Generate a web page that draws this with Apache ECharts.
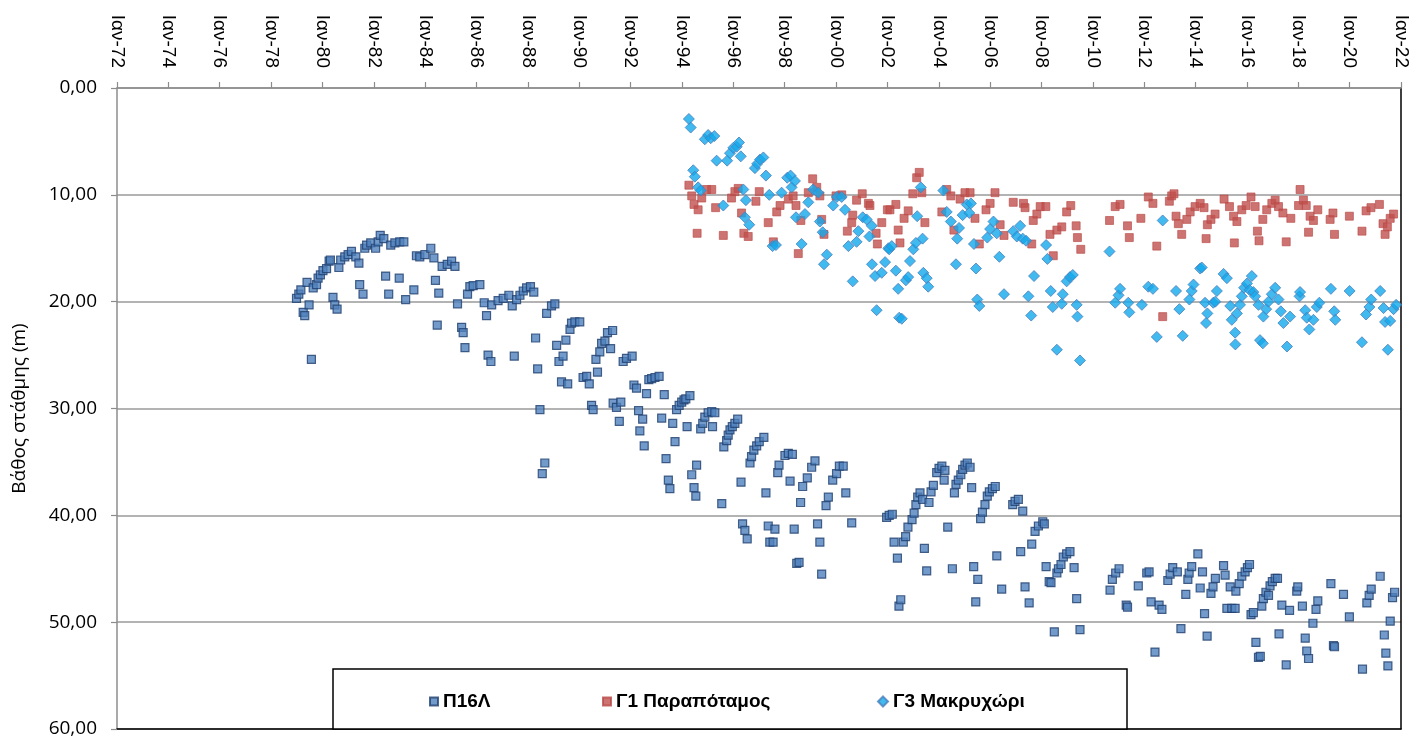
<!DOCTYPE html>
<html>
<head>
<meta charset="utf-8">
<script src="https://cdn.jsdelivr.net/npm/echarts@6/dist/echarts.min.js"></script>
<style>
html,body{margin:0;padding:0;background:#fff;}
#chart{width:1411px;height:744px;}
</style>
</head>
<body>
<div id="chart"></div>
<script>
const seriesNames = ['Π16Λ', 'Γ1 Παραπόταμος', 'Γ3 Μακρυχώρι'];
const yAxisTitle = 'Βάθος στάθμης (m)';
const monthPrefix = 'Ιαν-';

// [decimal year, depth (m)]
const p16L = [
[1978.99,19.7],[1979.08,19.3],[1979.16,18.9],[1979.25,21.0],[1979.31,21.3],[1979.40,18.2],[1979.48,20.3],[1979.57,25.4],[1979.64,18.7],[1979.77,18.4],[1979.83,17.8],[1979.92,17.5],[1980.02,17.1],[1980.16,16.9],[1980.26,16.2],[1980.31,16.1],[1980.41,19.6],[1980.48,20.3],[1980.57,20.7],[1980.64,16.8],[1980.71,16.1],[1980.87,15.8],[1981.00,15.6],[1981.13,15.3],[1981.30,15.8],[1981.42,16.4],[1981.45,18.4],[1981.58,19.3],[1981.65,15.0],[1981.72,14.7],[1981.88,14.5],[1982.07,15.0],[1982.17,14.4],[1982.25,13.8],[1982.39,14.1],[1982.46,17.6],[1982.58,19.3],[1982.66,14.7],[1982.82,14.5],[1982.99,17.8],[1983.01,14.4],[1983.17,14.4],[1983.24,19.8],[1983.56,18.9],[1983.66,15.7],[1983.79,15.8],[1983.99,15.6],[1984.22,15.0],[1984.34,15.9],[1984.40,18.0],[1984.47,22.2],[1984.53,19.2],[1984.66,16.7],[1984.86,16.5],[1985.03,16.2],[1985.16,16.7],[1985.26,20.2],[1985.42,22.4],[1985.48,22.9],[1985.55,24.3],[1985.65,19.3],[1985.74,18.6],[1985.87,18.5],[1986.13,18.4],[1986.30,20.1],[1986.39,21.3],[1986.45,25.0],[1986.56,25.6],[1986.59,20.3],[1986.84,19.9],[1987.04,19.7],
[1987.26,19.4],[1987.39,20.4],[1987.47,25.1],[1987.56,19.8],[1987.69,19.4],[1987.82,19.0],[1987.95,18.7],[1988.10,18.6],[1988.23,19.1],[1988.30,23.4],[1988.38,26.3],[1988.47,30.1],[1988.56,36.1],[1988.66,35.1],[1988.73,21.1],[1988.92,20.4],[1989.05,20.2],[1989.12,24.1],[1989.21,25.6],[1989.31,27.5],[1989.37,25.1],[1989.48,23.6],[1989.55,27.7],[1989.64,22.6],[1989.70,22.0],[1989.83,21.9],[1990.02,21.9],[1990.15,27.1],[1990.29,27.0],[1990.39,27.7],[1990.48,29.7],[1990.54,30.1],[1990.65,25.4],[1990.71,26.6],[1990.80,24.7],[1990.87,23.9],[1991.00,23.7],[1991.10,22.9],[1991.22,24.4],[1991.30,22.7],[1991.32,29.5],[1991.45,29.9],[1991.56,31.2],[1991.62,29.4],[1991.71,25.6],[1991.84,25.3],[1992.06,25.1],[1992.13,27.8],[1992.23,28.1],[1992.31,30.2],[1992.36,32.1],[1992.47,31.0],[1992.53,33.5],[1992.62,28.6],[1992.71,27.3],[1992.82,27.2],[1992.95,27.1],[1993.11,27.0],[1993.21,30.9],[1993.31,28.7],[1993.38,34.7],[1993.47,36.7],[1993.53,37.5],[1993.64,31.4],[1993.73,33.1],[1993.79,30.1],[1993.89,29.7],[1993.99,29.4],[1994.08,29.2],[1994.15,29.1],[1994.20,31.7],[1994.31,28.8],[1994.38,36.2],[1994.47,37.4],[1994.54,38.2],[1994.57,35.3],
[1994.73,31.9],[1994.81,31.4],[1994.89,30.8],[1995.02,30.4],[1995.16,30.3],[1995.19,31.7],[1995.28,30.4],[1995.55,38.9],[1995.63,33.6],[1995.74,33.0],[1995.80,32.5],[1995.87,32.0],[1995.96,31.7],[1996.06,31.4],[1996.17,31.0],[1996.30,36.9],[1996.36,40.8],[1996.45,41.4],[1996.54,42.2],[1996.65,35.1],[1996.71,34.5],[1996.80,33.9],[1996.91,33.5],[1997.01,33.1],[1997.19,32.7],[1997.27,37.9],[1997.36,41.0],[1997.42,42.5],[1997.55,42.5],[1997.62,41.3],[1997.73,36.0],[1997.78,35.3],[1998.01,34.4],[1998.14,34.2],[1998.21,36.8],[1998.30,34.3],[1998.37,41.3],[1998.47,44.5],[1998.56,44.4],[1998.62,38.8],[1998.70,37.3],[1998.88,36.5],[1999.05,35.5],[1999.18,34.9],[1999.28,40.8],[1999.37,42.5],[1999.44,45.5],[1999.61,39.1],[1999.70,38.3],[1999.87,36.7],[2000.02,36.1],[2000.13,35.4],[2000.28,35.4],[2000.38,37.9],[2000.61,40.7],
[2001.97,40.2],[2002.07,40.0],[2002.19,39.9],[2002.26,42.5],[2002.39,44.0],[2002.45,48.5],[2002.52,47.9],[2002.62,42.5],[2002.71,42.0],[2002.80,41.1],[2002.96,40.4],[2003.04,39.8],[2003.11,39.0],[2003.18,38.3],[2003.27,37.9],[2003.37,38.5],[2003.44,43.1],[2003.53,45.2],[2003.62,38.8],[2003.70,37.8],[2003.79,37.2],[2003.92,36.0],[2004.01,35.6],[2004.12,35.4],[2004.21,36.7],[2004.24,35.8],[2004.35,41.1],[2004.53,45.0],[2004.61,37.9],[2004.67,37.1],[2004.76,36.7],[2004.86,36.2],[2004.93,35.7],[2005.02,35.3],[2005.11,35.1],[2005.22,35.5],[2005.28,37.4],[2005.36,44.8],[2005.44,48.1],[2005.52,46.0],[2005.63,40.3],[2005.70,39.7],[2005.80,39.0],[2005.89,38.2],[2005.97,37.8],[2006.09,37.5],[2006.20,37.3],[2006.26,43.8],[2006.45,46.9],[2006.88,39.0],[2006.97,38.7],[2007.10,38.5],[2007.19,43.4],[2007.27,39.6],[2007.36,46.7],[2007.52,48.2],[2007.62,42.7],[2007.75,41.5],[2007.88,41.0],[2008.05,40.6],[2008.11,40.8],[2008.18,44.8],[2008.30,46.2],[2008.37,46.3],[2008.50,50.9],[2008.60,45.4],[2008.66,45.0],[2008.76,44.6],[2008.85,43.9],[2008.98,43.6],[2009.11,43.4],[2009.27,44.9],[2009.37,47.8],[2009.50,50.7],
[2010.67,47.0],[2010.76,46.0],[2010.89,45.4],[2011.02,45.0],[2011.30,48.4],[2011.35,48.6],[2011.77,46.6],[2012.10,45.4],[2012.19,45.3],[2012.27,48.1],[2012.42,52.8],[2012.58,48.4],[2012.69,48.8],[2012.92,46.1],[2013.01,45.5],[2013.11,44.9],[2013.29,45.3],[2013.43,50.6],[2013.62,47.4],[2013.70,46.0],[2013.75,45.4],[2013.85,44.8],[2014.09,43.6],[2014.18,46.8],[2014.27,45.3],[2014.35,49.2],[2014.45,51.3],[2014.60,47.3],[2014.68,46.7],[2014.77,45.9],[2015.09,44.7],[2015.15,45.6],[2015.22,48.7],[2015.35,46.7],[2015.41,48.7],[2015.54,48.7],[2015.57,47.1],[2015.70,46.4],[2015.80,45.7],[2015.93,45.3],[2016.02,44.9],[2016.10,44.6],[2016.16,49.3],[2016.25,49.1],[2016.35,51.9],[2016.45,53.3],[2016.52,53.2],[2016.58,48.5],[2016.64,47.8],[2016.74,47.2],[2016.84,47.5],[2016.90,46.6],[2016.99,46.2],[2017.10,45.9],[2017.19,45.9],[2017.25,51.1],[2017.36,48.4],[2017.53,54.0],[2017.66,48.9],[2017.94,47.1],[2017.98,46.7],[2018.16,48.5],[2018.27,51.5],[2018.33,52.7],[2018.40,53.4],[2018.57,50.1],[2018.69,48.8],[2018.76,48.0],[2019.27,46.4],[2019.37,52.2],[2019.41,52.3],[2019.76,47.4],[2019.99,49.5],[2020.50,54.4],[2020.67,48.2],[2020.76,47.5],[2020.84,46.9],[2021.19,45.7],[2021.35,51.2],[2021.41,52.9],[2021.49,54.1],[2021.58,49.9],[2021.67,47.7],[2021.75,47.2]
];

const g1Parapotamos = [
[1994.27,9.1],[1994.38,10.1],[1994.47,10.9],[1994.59,13.6],[1994.63,11.4],[1994.77,10.3],[1994.96,9.5],[1995.16,9.5],[1995.31,11.2],[1995.61,13.8],[1995.93,10.3],[1996.06,9.7],[1996.19,9.4],[1996.32,11.7],[1996.41,13.6],[1996.58,13.9],[1996.88,10.6],[1997.01,9.7],[1997.36,12.6],[1997.56,14.4],[1997.69,11.6],[1997.82,11.0],[1998.14,10.4],[1998.33,10.1],[1998.44,11.0],[1998.53,15.5],[1998.63,12.4],[1998.92,9.8],[1999.09,8.5],[1999.25,9.3],[1999.37,10.1],[1999.44,12.3],[1999.53,13.7],[2000.00,10.1],[2000.22,10.0],[2000.44,13.4],[2000.61,12.6],[2000.65,11.9],[2000.80,10.5],[2001.02,9.9],[2001.26,10.8],[2001.32,11.0],[2001.56,13.6],[2001.61,14.6],[2001.78,12.6],[2002.00,11.4],[2002.10,11.4],[2002.33,10.9],[2002.42,13.3],[2002.49,14.5],[2002.65,12.2],[2002.81,11.5],[2002.99,9.9],[2003.14,8.4],[2003.24,7.9],[2003.34,9.8],[2003.46,12.6],[2004.12,11.6],[2004.31,9.5],[2004.47,10.1],[2004.59,13.3],[2004.83,10.4],[2005.02,9.8],[2005.22,9.8],[2005.41,12.2],[2005.58,14.6],[2005.84,11.4],[2006.00,10.8],[2006.19,9.8],[2006.39,12.8],[2006.54,13.8],[2006.90,10.7],[2007.30,10.8],[2007.36,11.2],[2007.62,14.6],[2007.68,12.4],[2007.82,11.8],[2007.95,11.1],[2008.17,11.1],[2008.33,13.7],[2008.46,15.7],[2008.60,13.3],[2008.79,13.0],[2008.98,11.6],[2009.14,11.0],[2009.35,12.9],[2009.40,14.0],[2009.53,15.1],
[2010.65,12.4],[2010.87,11.1],[2011.06,10.9],[2011.35,12.9],[2011.42,14.0],[2011.87,12.2],[2012.16,10.2],[2012.34,10.8],[2012.49,14.8],[2012.72,21.4],[2012.98,10.6],[2013.07,10.1],[2013.16,9.9],[2013.24,12.0],[2013.33,12.7],[2013.46,13.7],[2013.66,12.3],[2013.79,11.6],[2013.98,11.1],[2014.18,10.8],[2014.33,11.2],[2014.41,14.1],[2014.46,12.8],[2014.60,12.3],[2014.76,11.8],[2015.11,10.4],[2015.32,11.1],[2015.48,12.0],[2015.51,14.5],[2015.61,12.5],[2015.80,11.4],[2015.97,11.0],[2016.16,10.2],[2016.32,11.1],[2016.41,13.4],[2016.47,14.3],[2016.62,12.3],[2016.77,11.4],[2016.97,10.8],[2017.10,10.5],[2017.23,11.1],[2017.40,11.7],[2017.53,14.4],[2017.71,12.2],[2018.01,11.0],[2018.07,9.5],[2018.20,10.5],[2018.31,11.0],[2018.40,13.5],[2018.46,12.0],[2018.59,12.4],[2018.76,11.4],[2019.24,12.3],[2019.35,11.7],[2019.41,13.7],[2019.99,12.0],[2020.48,13.4],[2020.64,11.5],[2020.83,11.2],[2021.16,10.9],[2021.30,12.7],[2021.38,13.7],[2021.47,13.0],[2021.58,12.2],[2021.71,11.8]
];

const g3Makrychori = [
[1994.27,2.9],[1994.34,3.7],[1994.44,7.7],[1994.50,8.3],[1994.63,9.3],[1994.73,9.6],[1994.89,4.8],[1995.02,4.4],[1995.12,4.7],[1995.26,4.5],[1995.35,6.8],[1995.61,11.0],[1995.76,6.8],[1995.87,6.1],[1996.00,5.6],[1996.13,5.5],[1996.22,5.1],[1996.29,6.4],[1996.39,9.5],[1996.45,12.1],[1996.49,10.5],[1996.62,12.8],[1996.84,7.5],[1996.93,7.1],[1997.04,6.7],[1997.17,6.5],[1997.27,8.2],[1997.40,10.0],[1997.53,14.8],[1997.66,14.7],[1997.88,9.8],[1998.10,8.4],[1998.23,8.2],[1998.27,9.3],[1998.40,8.7],[1998.44,12.1],[1998.66,14.6],[1998.79,11.8],[1998.92,10.7],[1999.11,9.5],[1999.31,9.8],[1999.37,12.5],[1999.48,13.5],[1999.53,16.5],[1999.64,15.6],[1999.89,11.0],[2000.03,10.2],[2000.22,10.2],[2000.35,11.4],[2000.48,14.8],[2000.65,18.1],[2000.80,14.4],[2000.87,13.4],[2001.04,12.1],[2001.19,12.3],[2001.30,13.9],[2001.39,12.9],[2001.40,16.5],[2001.52,17.6],[2001.58,20.8],[2001.78,17.3],[2001.91,16.3],[2002.04,15.0],[2002.07,15.1],[2002.17,14.8],[2002.33,17.1],[2002.42,18.8],[2002.46,21.5],[2002.56,21.6],[2002.72,18.0],[2002.81,17.7],[2002.88,16.2],[2003.01,15.1],[2003.11,14.5],[2003.16,12.0],[2003.30,9.3],[2003.37,14.1],[2003.40,17.3],[2003.53,17.8],[2003.59,18.6],[2004.18,9.6],[2004.31,11.6],[2004.47,12.5],[2004.67,16.5],[2004.72,14.1],[2004.79,13.1],[2004.93,11.9],[2005.09,10.9],[2005.19,11.7],[2005.25,10.8],[2005.37,14.6],[2005.45,16.9],[2005.50,19.8],[2005.58,20.4],[2005.89,14.0],[2006.00,13.2],[2006.13,12.5],[2006.26,13.6],[2006.36,15.8],[2006.54,19.3],[2006.90,13.4],[2007.04,13.9],[2007.17,12.9],[2007.27,14.1],[2007.40,14.3],[2007.49,19.5],[2007.60,21.3],[2007.71,17.6],[2008.18,14.7],[2008.23,16.0],[2008.36,19.0],[2008.44,20.5],[2008.60,24.5],[2008.79,20.2],[2008.83,19.3],[2008.98,18.1],[2009.11,17.7],[2009.22,17.5],[2009.37,20.3],[2009.40,21.4],[2009.50,25.5],
[2010.65,15.3],[2010.87,20.1],[2011.00,19.4],[2011.06,18.8],[2011.38,20.1],[2011.42,21.0],[2011.91,20.3],[2012.16,18.6],[2012.34,18.8],[2012.49,23.3],[2012.72,12.4],[2013.24,19.0],[2013.37,20.7],[2013.50,23.2],[2013.76,19.8],[2013.85,19.0],[2013.92,18.4],[2014.18,16.9],[2014.24,16.8],[2014.37,20.1],[2014.41,22.0],[2014.46,21.1],[2014.69,20.1],[2014.77,20.0],[2014.83,19.0],[2015.09,17.4],[2015.22,17.8],[2015.35,20.4],[2015.41,21.7],[2015.54,22.9],[2015.55,24.0],[2015.61,21.1],[2015.73,20.3],[2015.80,19.5],[2015.89,18.7],[2016.00,18.3],[2016.10,18.9],[2016.19,17.6],[2016.25,19.1],[2016.32,19.5],[2016.45,20.3],[2016.51,23.6],[2016.62,23.9],[2016.64,21.4],[2016.75,20.7],[2016.84,20.0],[2016.97,19.3],[2017.10,18.7],[2017.23,19.8],[2017.32,20.9],[2017.42,22.0],[2017.56,24.2],[2017.68,21.4],[2018.05,19.5],[2018.07,19.1],[2018.27,20.8],[2018.33,21.5],[2018.43,22.6],[2018.59,21.7],[2018.72,20.5],[2018.82,20.1],[2019.27,18.8],[2019.40,20.9],[2019.44,21.7],[2020.00,19.0],[2020.48,23.8],[2020.64,21.2],[2020.77,20.5],[2020.84,19.8],[2021.19,19.0],[2021.32,20.6],[2021.38,21.9],[2021.49,24.5],[2021.58,21.8],[2021.71,20.7],[2021.81,20.3]
];

const xMin = 1972, xMax = 2022, xStep = 2;
const yMin = 0, yMax = 60, yStep = 10;

const FONT = '"Open Sans", "Liberation Sans", sans-serif';
const XFONT = '"Liberation Sans", Arial, sans-serif';
const chart = echarts.init(document.getElementById('chart'), null, {renderer: 'canvas'});

const legendText = {fontFamily: '"Liberation Sans", Arial, sans-serif', fontWeight: 'bold', fontSize: 19, color: '#000'};

chart.setOption({
  animation: false,
  backgroundColor: '#fff',
  grid: {left: 117, right: 10, top: 88, bottom: 15, containLabel: false},
  xAxis: [{
    type: 'value', position: 'top', min: xMin, max: xMax, interval: xStep,
    axisLine: {show: true, onZero: false, lineStyle: {color: '#8c8c8c', width: 1.5}},
    axisTick: {show: true, length: 6, lineStyle: {color: '#8c8c8c', width: 1.2}},
    axisLabel: {
      rotate: 90, margin: 20, fontFamily: XFONT, fontSize: 19, color: '#000',
      formatter: v => monthPrefix + String(Math.round(v) % 100).padStart(2, '0')
    },
    splitLine: {show: false}
  }, {
    type: 'value', position: 'bottom', min: xMin, max: xMax,
    axisLine: {show: true, onZero: false, lineStyle: {color: '#000', width: 1.5}},
    axisTick: {show: false}, axisLabel: {show: false}, splitLine: {show: false}
  }],
  yAxis: [{
    type: 'value', inverse: true, min: yMin, max: yMax, interval: yStep,
    name: yAxisTitle, nameLocation: 'middle', nameGap: 88, nameRotate: 90,
    nameTextStyle: {fontFamily: FONT, fontSize: 19, color: '#000'},
    axisLine: {show: true, onZero: false, lineStyle: {color: '#8c8c8c', width: 1.5}},
    axisTick: {show: true, length: 6, lineStyle: {color: '#8c8c8c', width: 1.2}},
    axisLabel: {
      margin: 20, fontFamily: FONT, fontSize: 19, color: '#000',
      formatter: v => v.toFixed(2).replace('.', ',')
    },
    splitLine: {show: true, lineStyle: {color: '#9a9a9a', width: 1.5}}
  }, {
    type: 'value', position: 'right', inverse: true, min: yMin, max: yMax,
    axisLine: {show: true, onZero: false, lineStyle: {color: '#000', width: 1.5}},
    axisTick: {show: false}, axisLabel: {show: false}, splitLine: {show: false}
  }],
  graphic: [{
    type: 'rect', z: 5, silent: true,
    shape: {x: 333, y: 669, width: 794, height: 60},
    style: {fill: '#fff', stroke: '#000', lineWidth: 1.5}
  }],
  legend: [
    {data: [seriesNames[0]], left: 424, top: 687, itemWidth: 8, itemHeight: 8, itemGap: 0, z: 10, textStyle: legendText, selectedMode: false},
    {data: [seriesNames[1]], left: 597, top: 687, itemWidth: 8, itemHeight: 8, itemGap: 0, z: 10, textStyle: legendText, selectedMode: false},
    {data: [seriesNames[2]], left: 872, top: 687, itemWidth: 10, itemHeight: 10, itemGap: 0, z: 10, textStyle: legendText, selectedMode: false}
  ],
  series: [{
    name: seriesNames[0], type: 'scatter', data: p16L, symbol: 'rect', symbolSize: 8,
    itemStyle: {color: '#4f81bd', borderColor: '#1f3f6e', borderWidth: 1.2}
  }, {
    name: seriesNames[1], type: 'scatter', data: g1Parapotamos, symbol: 'rect', symbolSize: 8,
    itemStyle: {color: '#c0504d', borderColor: '#b84a47', borderWidth: 0.8}
  }, {
    name: seriesNames[2], type: 'scatter', data: g3Makrychori, symbol: 'diamond', symbolSize: 11,
    itemStyle: {color: '#12a9ec', borderColor: '#4a7ebb', borderWidth: 1}
  }]
});
</script>
</body>
</html>
